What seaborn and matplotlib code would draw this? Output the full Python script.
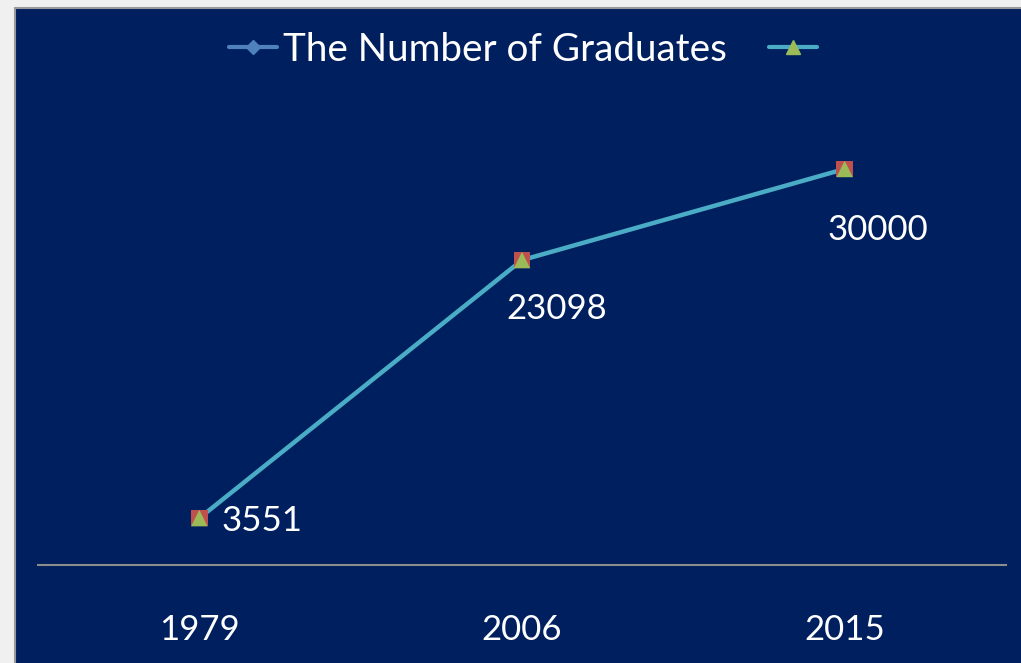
import matplotlib
matplotlib.use("Agg")
import matplotlib.pyplot as plt
from matplotlib.patches import Rectangle
from matplotlib.lines import Line2D
import seaborn as sns

years = ["1979", "2006", "2015"]
graduates = [3551, 23098, 30000]
series_label = "The Number of Graduates"

NAVY = "#001F5F"
TEAL = "#4BACC6"
RED = "#C0504D"
GREEN = "#9BBB59"
BLUE = "#4F81BD"

sns.set_style("white")
plt.rcParams["font.family"] = ["Lato", "DejaVu Sans"]

W, H = 1021, 663
fig = plt.figure(figsize=(W / 100, H / 100), dpi=100, facecolor="#F0F0F0")
fig.patches.append(Rectangle((15 / W, -0.01), 1 - 15 / W + 0.01, 1 - 8 / H + 0.01, transform=fig.transFigure,
                             facecolor=NAVY, edgecolor="#9A9A9A", linewidth=1.5, zorder=-5))

ax = fig.add_axes([38 / W, (H - 565) / H, (1006 - 38) / W, (565 - 103) / H])
ax.set_facecolor("none")
ax.set_zorder(2)

idx = list(range(len(years)))
sns.lineplot(x=idx, y=graduates, ax=ax, color=TEAL, linewidth=3.2, zorder=2)
sns.scatterplot(x=idx, y=graduates, ax=ax, marker="s", color=RED, s=140, edgecolor="none", zorder=3)
sns.scatterplot(x=idx, y=graduates, ax=ax, marker="^", color=GREEN, s=140, edgecolor="none", zorder=4)

offsets = [(16, -2), (25, -35), (24, -44)]
for i, v in enumerate(graduates):
    ha = "left" if i == 0 else "center"
    ax.annotate(str(v), (i, v), xytext=offsets[i], textcoords="offset points",
                ha=ha, va="center", color="white", fontsize=25)

ax.set_xlim(-0.5, len(years) - 0.5)
ax.set_ylim(0, 35000)
ax.set_xticks(idx)
ax.set_xticklabels(years, color="white", fontsize=25)
ax.tick_params(axis="x", length=0, pad=35)
ax.set_yticks([])
for s in ["top", "left", "right"]:
    ax.spines[s].set_visible(False)
ax.spines["bottom"].set_color("#8C8C8C")
ax.spines["bottom"].set_linewidth(1.5)
ax.set_xlabel("")
ax.set_ylabel("")

h1 = Line2D([], [], color=BLUE, marker="D", markersize=7, linewidth=3)
h2 = Line2D([], [], color=TEAL, marker="^", markerfacecolor=GREEN, markeredgecolor=GREEN,
            markersize=10, linewidth=3)
leg = fig.legend([h1, h2], [series_label, ""], loc="center", bbox_to_anchor=(526 / W, 1 - 50 / H),
                 ncol=2, frameon=False, fontsize=27.8, labelcolor="white",
                 handlelength=1.25, handletextpad=0.15, columnspacing=1.1)

fig.savefig("out.png", dpi=100, facecolor=fig.get_facecolor())
